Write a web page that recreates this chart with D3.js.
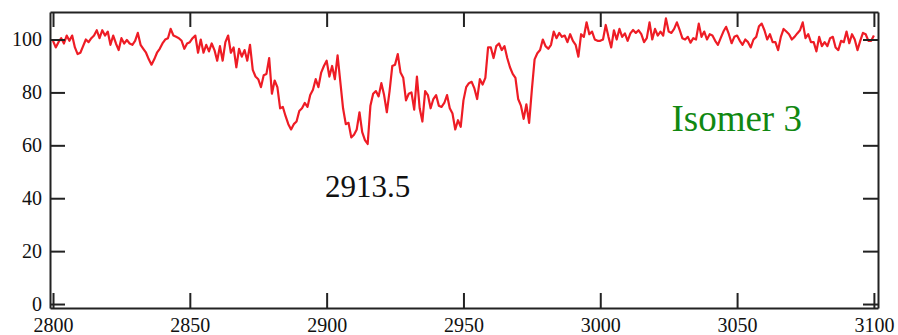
<!DOCTYPE html>
<html>
<head>
<meta charset="utf-8">
<script src="https://cdn.jsdelivr.net/npm/d3@7"></script>
<style>
  html, body { margin: 0; padding: 0; background: #fff; }
  #chart-container { width: 898px; height: 335px; }
  text { font-family: "Liberation Serif", "Times New Roman", serif; }
</style>
</head>
<body>
<div id="chart-container"></div>
<script>
// transmittance (%), one value per cm-1
var band2800 = [99.5, 97, 99, 100.5, 98.5, 101.5, 99.5, 101.5, 97, 94.5,
    95, 97.5, 100, 99, 100.5, 101.5, 103.5, 100.5, 103.5, 101.5,
    103, 98, 101.5, 98.5, 96, 100.5, 98.5, 99.8, 98.5, 98,
    99.5, 102.5, 98, 96.5, 95, 92.5, 90.5, 92.5, 95, 96.5,
    98.5, 100, 100.5, 104, 101.5, 101, 100.5, 99.5, 96.5, 98.5];
var band2850 = [99, 100.5, 101.5, 95, 100, 95, 98, 95.5, 98.5, 96,
    92, 97.5, 92, 99, 101.5, 95, 97, 89.5, 96.5, 93.5,
    96, 92, 98, 88.5, 86, 85, 82, 86.5, 87, 93,
    79.5, 84.5, 82, 74, 74.5, 71, 68, 66, 68, 69,
    73, 74, 76, 74.5, 79, 81, 85, 82, 87.5, 90];
var band2900 = [92, 86, 90, 85, 94, 84, 74, 68, 68.5, 63,
    64, 66, 72.5, 65, 62, 60.5, 75, 79.5, 80.5, 78.5,
    83.5, 79, 72.5, 80.5, 90, 90.5, 94.5, 87.5, 85.5, 77,
    79.5, 80, 73.5, 86, 74, 69, 80.5, 79, 74, 77.5,
    79, 75, 74.5, 76, 79, 74, 72, 66, 69.5, 67];
var band2950 = [77, 82, 83.5, 84, 81.5, 77.5, 85, 83, 85.5, 97,
    97, 93, 97.5, 98.5, 96, 97.5, 93, 89.5, 87, 85.5,
    77.5, 75, 70, 75.5, 68.5, 81, 92.5, 94.8, 96, 100,
    97.5, 96.5, 98, 103, 100.5, 102.5, 101, 101.5, 99, 102,
    99.5, 98, 93.5, 102, 101, 106.5, 102, 103, 100, 99.5];
var band3000 = [99.5, 100, 105.5, 101, 97, 103.5, 100, 104, 101, 102.3,
    99.5, 102.3, 103.6, 102.5, 103.5, 102, 99, 100.5, 106.5, 100,
    104, 101.5, 103, 101.5, 108, 103, 102.5, 104, 106.5, 103.6,
    100.5, 100, 101, 98.8, 100.5, 100, 106, 101, 103, 100,
    102, 101.5, 99.5, 98, 100.5, 103, 104.8, 102, 98.6, 101];
var band3050 = [101.5, 99.5, 98, 100, 99, 97, 100, 101, 105, 106,
    103.5, 100, 102, 99, 99, 96, 101, 104, 103, 102,
    100, 101, 102.3, 103.5, 106.5, 100.5, 102, 99, 99, 95.5,
    101, 97.5, 99, 97.5, 100.5, 101, 97, 96, 99.5, 99,
    103, 98.6, 102, 100, 96, 99.5, 102.5, 102, 99.5, 99.5, 101.5];

var xTicks = [2800, 2850, 2900, 2950, 3000, 3050, 3100];
var yTicks = [0, 20, 40, 60, 80, 100];
var peakLabel = "2913.5";
var isomerLabel = "Isomer 3";

var width = 898,
    height = 335,
    margin = {top: 12, right: 20, bottom: 27, left: 50},
    tickLen = 15,
    lineColor = "#ee1c25",
    axisColor = "#222";

var spectrum = d3.merge([band2800, band2850, band2900, band2950, band3000, band3050])
    .map((v, i) => ({wn: 2800 + i, t: v}));

var xScale = d3.scaleLinear()
    .domain([2798.9, 3101.5])
    .range([margin.left, width - margin.right]);

var yScale = d3.scaleLinear()
    .domain([-1.5, 110.4])
    .range([height - margin.bottom, margin.top]);

var svg = d3.select("#chart-container").append("svg")
    .attr("width", width)
    .attr("height", height);

var line = d3.line()
    .x(d => xScale(d.wn))
    .y(d => yScale(d.t));

svg.append("path")
    .datum(spectrum)
    .attr("fill", "none")
    .attr("stroke", lineColor)
    .attr("stroke-width", 2.2)
    .attr("stroke-linejoin", "round")
    .attr("d", line);

// inward ticks on all four sides, labels only bottom/left
var gBottom = svg.append("g")
    .attr("transform", "translate(0," + (height - margin.bottom) + ")")
    .call(d3.axisBottom(xScale).tickValues(xTicks).tickFormat(d3.format("d"))
        .tickSizeInner(-tickLen).tickSizeOuter(0).tickPadding(10));
var gTop = svg.append("g")
    .attr("transform", "translate(0," + margin.top + ")")
    .call(d3.axisTop(xScale).tickValues(xTicks).tickFormat("")
        .tickSizeInner(-tickLen).tickSizeOuter(0));
var gLeft = svg.append("g")
    .attr("transform", "translate(" + margin.left + ",0)")
    .call(d3.axisLeft(yScale).tickValues(yTicks)
        .tickSizeInner(-tickLen).tickSizeOuter(0).tickPadding(8));
var gRight = svg.append("g")
    .attr("transform", "translate(" + (width - margin.right) + ",0)")
    .call(d3.axisRight(yScale).tickValues(yTicks).tickFormat("")
        .tickSizeInner(-tickLen).tickSizeOuter(0));

svg.selectAll(".domain").attr("stroke", axisColor).attr("stroke-width", 2);
svg.selectAll(".tick line").attr("stroke", axisColor).attr("stroke-width", 2);
svg.selectAll(".tick text")
    .attr("fill", "#111")
    .style("font-family", "'Liberation Serif', serif")
    .style("font-size", "20px");

svg.append("text")
    .attr("x", xScale(2915))
    .attr("y", yScale(40.5))
    .attr("text-anchor", "middle")
    .attr("fill", "#111")
    .style("font-size", "31px")
    .text(peakLabel);

svg.append("text")
    .attr("x", xScale(3026))
    .attr("y", yScale(65.4))
    .attr("fill", "#118811")
    .style("font-size", "37px")
    .text(isomerLabel);
</script>
</body>
</html>
